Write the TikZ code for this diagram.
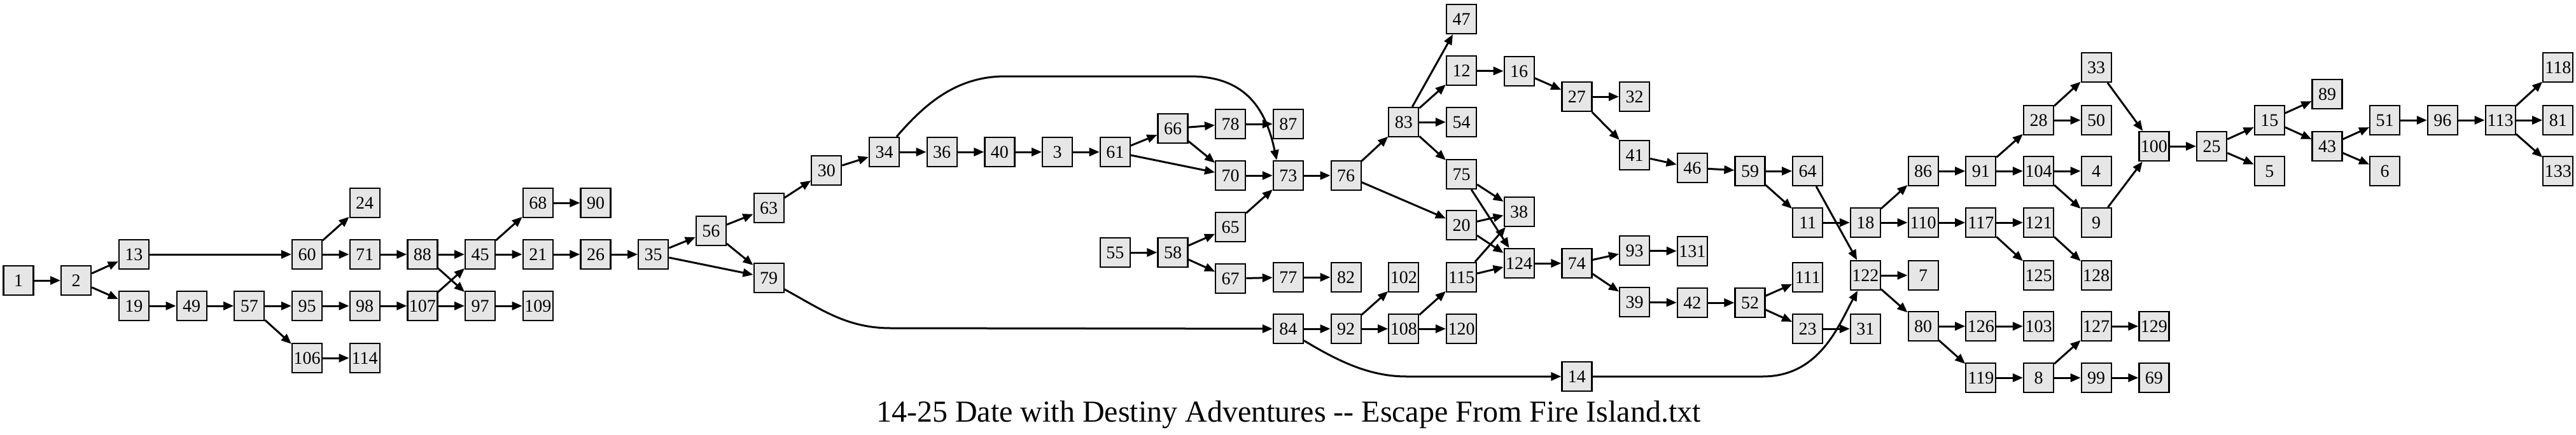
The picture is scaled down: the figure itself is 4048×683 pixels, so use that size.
\documentclass[tikz,border=0pt]{standalone}
\usepackage{fontspec}
\setmainfont{Liberation Serif}
\usetikzlibrary{arrows.meta}
\definecolor{boxgray}{RGB}{230,230,230}
\tikzset{
  b/.style={draw, line width=2.2pt, fill=boxgray, minimum width=47pt, minimum height=46pt,
    inner sep=0pt, font=\fontsize{28}{30}\selectfont},
  e/.style={-{Triangle[length=16pt,width=13pt]}, line width=3pt},
}
\begin{document}
\begin{tikzpicture}[x=1pt,y=-1pt]
\useasboundingbox (0,0) rectangle (4048,683);
\foreach \n/\k/\y in {
1/0/441, 2/1/441, 13/2/400, 19/2/481, 49/3/481, 57/4/481, 60/5/400, 95/5/481, 106/5/563,
24/6/319, 71/6/400, 98/6/481, 114/6/563, 88/7/400, 107/7/481, 45/8/400, 97/8/481,
68/9/319, 21/9/400, 109/9/481, 90/10/319, 26/10/400, 35/11/400, 56/12/363, 63/13/327, 79/13/437,
30/14/268, 34/15/239, 36/16/239, 40/17/239, 3/18/239, 61/19/239, 55/19/397, 66/20/202, 58/20/397,
78/21/195, 70/21/276, 65/21/357, 67/21/438, 87/22/195, 73/22/276, 77/22/436, 84/22/517,
76/23/276, 82/23/436, 92/23/517, 83/24/192, 102/24/436, 108/24/517,
47/25/30, 12/25/111, 54/25/192, 75/25/274, 20/25/354, 115/25/436, 120/25/517,
16/26/112, 38/26/333, 124/26/414, 27/27/152, 74/27/414, 14/27/592,
32/28/152, 41/28/244, 93/28/394, 39/28/475, 46/29/264, 131/29/395, 42/29/476,
59/30/269, 52/30/476, 64/31/269, 11/31/350, 111/31/436, 23/31/517,
18/32/350, 122/32/433, 31/32/517, 86/33/269, 110/33/350, 7/33/433, 80/33/513,
91/34/269, 117/34/350, 126/34/513, 119/34/594,
28/35/189, 104/35/269, 121/35/350, 125/35/433, 103/35/513, 8/35/594,
33/36/106, 50/36/189, 4/36/269, 9/36/350, 128/36/433, 127/36/513, 99/36/594,
100/37/230, 129/37/513, 69/37/594, 25/38/230, 15/39/189, 5/39/269,
89/40/148, 43/40/230, 51/41/189, 6/41/269, 96/42/189, 113/43/189,
118/44/106, 81/44/189, 133/44/269}
  \node[b] (n\n) at ({29+90.7*\k},\y) {\n};
\foreach \a/\b in {
1/2, 2/13, 2/19, 13/60, 19/49, 49/57, 57/95, 57/106, 60/24, 60/71, 71/88, 88/45, 88/97,
95/98, 98/107, 106/114, 107/45, 107/97, 45/68, 45/21, 68/90, 21/26, 97/109, 26/35,
35/56, 35/79, 56/63, 56/79, 63/30, 30/34, 34/36, 36/40, 40/3, 3/61, 61/66, 61/70,
66/78, 66/70, 78/87, 70/73, 55/58, 58/65, 58/67, 65/73, 67/77, 77/82, 73/76,
76/83, 76/20, 83/47, 83/12, 83/54, 83/75, 12/16, 16/27, 27/32, 27/41, 41/46,
75/38, 75/124, 20/38, 20/124, 115/38, 115/124, 84/92, 92/102, 92/108, 108/115, 108/120,
124/74, 74/93, 74/39, 93/131, 39/42, 42/52, 46/59, 59/64, 59/11, 64/122, 11/18,
52/111, 52/23, 23/31, 18/86, 18/110, 122/7, 122/80, 86/91, 110/117, 91/28, 91/104,
117/121, 117/125, 80/126, 80/119, 126/103, 119/8, 28/33, 28/50, 104/4, 104/9,
121/128, 8/127, 8/99, 127/129, 99/69, 33/100, 9/100, 100/25, 25/15, 25/5,
15/89, 15/43, 43/51, 43/6, 51/96, 96/113, 113/118, 113/81, 113/133}
  \draw[e] (n\a) -- (n\b);
% curved connectors
\coordinate (c34a) at (1580,120);
\coordinate (c34b) at (1870,120);
\draw[e] (n34.51) .. controls (1460,155) and (1510,120) .. (c34a) -- (c34b)
  .. controls (1960,120) and (1990,175) .. (n73.127);
\coordinate (c79) at (1400,516);
\draw[e] (n79.-36) .. controls (1290,486) and (1330,516) .. (c79) -- (n84);
\coordinate (c84) at (2210,592);
\draw[e] (n84.-37) .. controls (2100,566) and (2150,592) .. (c84) -- (n14);
\coordinate (c14) at (2770,592);
\draw[e] (n14) -- (c14) .. controls (2860,592) and (2890,510) .. (n122.-117);
\node[font=\fontsize{48}{50}\selectfont, anchor=base] (title) at (2025,663)
  {14-25 Date with Destiny Adventures -{}- Escape From Fire Island.txt};
\end{tikzpicture}
\end{document}
